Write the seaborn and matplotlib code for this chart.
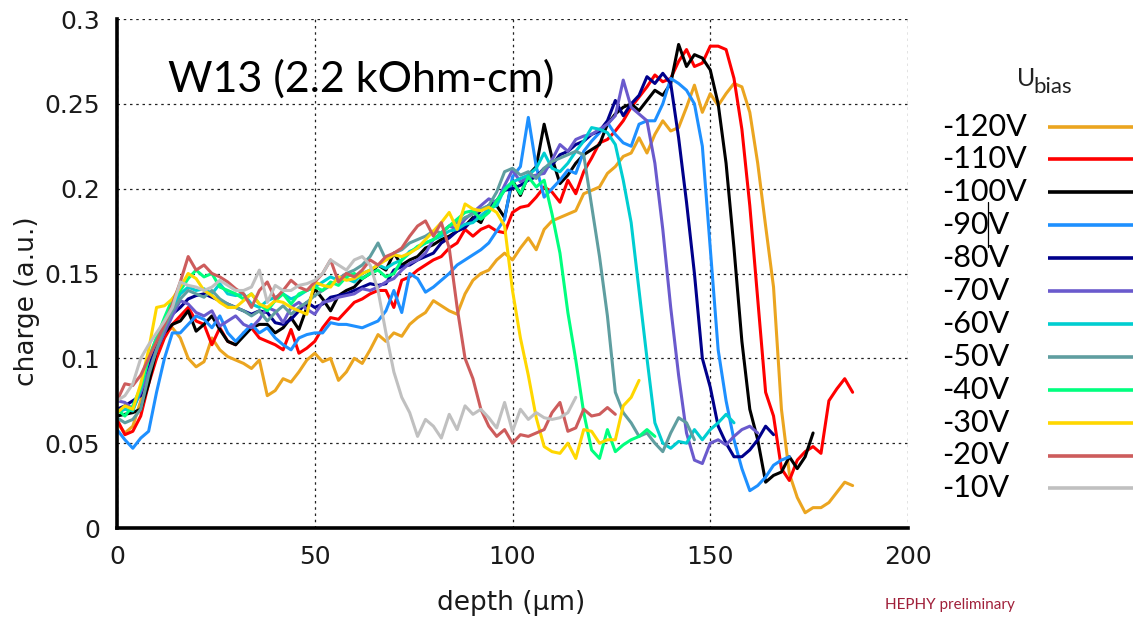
import numpy as np
import pandas as pd
import matplotlib
matplotlib.use("Agg")
import matplotlib.pyplot as plt
from matplotlib.lines import Line2D
from matplotlib.ticker import FuncFormatter
import seaborn as sns

# ---------------- data ----------------
bias_labels = ["-120V", "-110V", "-100V", "-90V", "-80V", "-70V",
               "-60V", "-50V", "-40V", "-30V", "-20V", "-10V"]
bias_colors = ["#EBA520", "#FF0000", "#000000", "#1E90FF", "#00008B", "#6A5ACD",
               "#00CED1", "#5F9EA0", "#00FF7F", "#FFD700", "#CD5C5C", "#C0C0C0"]
depth_step = 2.0  # µm sampling step of the depth scan

q_120 = [0.062, 0.056, 0.060, 0.075, 0.095, 0.108, 0.115, 0.118, 0.112, 0.100,
         0.095, 0.098, 0.112, 0.105, 0.101, 0.099, 0.097, 0.094, 0.099, 0.078,
         0.081, 0.088, 0.086, 0.092, 0.099, 0.103, 0.098, 0.100, 0.087, 0.092,
         0.100, 0.097, 0.105, 0.114, 0.110, 0.115, 0.113, 0.120, 0.124, 0.127,
         0.134, 0.131, 0.128, 0.126, 0.138, 0.146, 0.150, 0.152, 0.158, 0.162,
         0.158, 0.165, 0.171, 0.164, 0.176, 0.181, 0.183, 0.185, 0.187, 0.197,
         0.199, 0.201, 0.209, 0.213, 0.219, 0.221, 0.230, 0.221, 0.232, 0.240,
         0.234, 0.236, 0.248, 0.261, 0.245, 0.256, 0.249, 0.256, 0.262, 0.260,
         0.245, 0.215, 0.178, 0.142, 0.070, 0.032, 0.018, 0.009, 0.012, 0.012,
         0.015, 0.021, 0.027, 0.025]
q_110 = [0.064, 0.055, 0.057, 0.066, 0.085, 0.100, 0.112, 0.120, 0.125, 0.130,
         0.122, 0.120, 0.108, 0.118, 0.110, 0.108, 0.115, 0.118, 0.112, 0.110,
         0.108, 0.105, 0.117, 0.103, 0.106, 0.110, 0.118, 0.124, 0.123, 0.128,
         0.133, 0.135, 0.138, 0.140, 0.140, 0.130, 0.146, 0.148, 0.152, 0.155,
         0.158, 0.160, 0.165, 0.168, 0.176, 0.172, 0.176, 0.178, 0.175, 0.174,
         0.186, 0.189, 0.190, 0.195, 0.201, 0.198, 0.192, 0.205, 0.197, 0.210,
         0.218, 0.227, 0.229, 0.234, 0.240, 0.248, 0.254, 0.260, 0.267, 0.263,
         0.265, 0.275, 0.282, 0.272, 0.274, 0.284, 0.284, 0.282, 0.265, 0.235,
         0.190, 0.135, 0.080, 0.066, 0.035, 0.028, 0.040, 0.045, 0.048, 0.044,
         0.075, 0.082, 0.088, 0.080]
q_100 = [0.066, 0.067, 0.068, 0.070, 0.085, 0.105, 0.115, 0.120, 0.122, 0.128,
         0.116, 0.120, 0.125, 0.117, 0.110, 0.108, 0.113, 0.118, 0.120, 0.120,
         0.115, 0.118, 0.124, 0.117, 0.130, 0.141, 0.135, 0.128, 0.137, 0.140,
         0.142, 0.147, 0.150, 0.155, 0.152, 0.162, 0.155, 0.158, 0.160, 0.165,
         0.167, 0.170, 0.172, 0.175, 0.178, 0.183, 0.180, 0.190, 0.190, 0.183,
         0.205, 0.196, 0.208, 0.213, 0.238, 0.218, 0.203, 0.208, 0.215, 0.220,
         0.223, 0.226, 0.238, 0.244, 0.248, 0.250, 0.246, 0.252, 0.258, 0.255,
         0.262, 0.285, 0.272, 0.279, 0.277, 0.270, 0.250, 0.215, 0.165, 0.110,
         0.070, 0.052, 0.027, 0.031, 0.033, 0.042, 0.035, 0.042, 0.056]
q_90 = [0.058, 0.052, 0.047, 0.053, 0.057, 0.080, 0.100, 0.115, 0.115, 0.120,
        0.125, 0.123, 0.118, 0.125, 0.115, 0.110, 0.115, 0.120, 0.115, 0.118,
        0.112, 0.108, 0.105, 0.112, 0.114, 0.115, 0.115, 0.121, 0.120, 0.120,
        0.119, 0.118, 0.120, 0.122, 0.128, 0.140, 0.127, 0.150, 0.147, 0.139,
        0.142, 0.146, 0.150, 0.155, 0.158, 0.161, 0.164, 0.168, 0.175, 0.182,
        0.207, 0.213, 0.242, 0.213, 0.195, 0.200, 0.205, 0.211, 0.209, 0.222,
        0.228, 0.233, 0.239, 0.232, 0.227, 0.225, 0.238, 0.240, 0.240, 0.250,
        0.265, 0.262, 0.258, 0.250, 0.225, 0.165, 0.105, 0.075, 0.052, 0.035,
        0.022, 0.025, 0.030, 0.037, 0.040, 0.042]
q_80 = [0.070, 0.072, 0.075, 0.078, 0.095, 0.110, 0.120, 0.126, 0.130, 0.135,
        0.137, 0.138, 0.136, 0.134, 0.132, 0.130, 0.128, 0.126, 0.128, 0.127,
        0.121, 0.120, 0.123, 0.128, 0.133, 0.130, 0.132, 0.136, 0.137, 0.138,
        0.140, 0.142, 0.144, 0.143, 0.144, 0.152, 0.154, 0.155, 0.158, 0.160,
        0.162, 0.168, 0.171, 0.175, 0.177, 0.182, 0.187, 0.190, 0.193, 0.199,
        0.200, 0.202, 0.205, 0.207, 0.212, 0.214, 0.220, 0.222, 0.226, 0.228,
        0.232, 0.234, 0.240, 0.252, 0.243, 0.250, 0.255, 0.266, 0.262, 0.268,
        0.262, 0.230, 0.192, 0.150, 0.100, 0.083, 0.060, 0.050, 0.042, 0.042,
        0.046, 0.052, 0.060, 0.055]
q_70 = [0.075, 0.074, 0.070, 0.080, 0.092, 0.105, 0.115, 0.125, 0.134, 0.132,
        0.127, 0.125, 0.128, 0.119, 0.122, 0.125, 0.120, 0.118, 0.123, 0.130,
        0.128, 0.121, 0.130, 0.133, 0.129, 0.126, 0.133, 0.134, 0.136, 0.137,
        0.138, 0.141, 0.140, 0.142, 0.145, 0.147, 0.152, 0.156, 0.158, 0.162,
        0.170, 0.174, 0.178, 0.176, 0.182, 0.186, 0.190, 0.194, 0.192, 0.202,
        0.211, 0.204, 0.207, 0.208, 0.209, 0.217, 0.226, 0.222, 0.229, 0.231,
        0.232, 0.235, 0.238, 0.243, 0.264, 0.248, 0.244, 0.240, 0.215, 0.176,
        0.130, 0.090, 0.056, 0.040, 0.038, 0.050, 0.052, 0.049, 0.054, 0.058,
        0.060, 0.056]
q_60 = [0.068, 0.070, 0.069, 0.082, 0.100, 0.112, 0.122, 0.130, 0.138, 0.142,
        0.140, 0.141, 0.138, 0.144, 0.138, 0.137, 0.138, 0.132, 0.130, 0.134,
        0.136, 0.138, 0.135, 0.137, 0.140, 0.142, 0.145, 0.148, 0.146, 0.147,
        0.145, 0.150, 0.152, 0.155, 0.153, 0.156, 0.158, 0.163, 0.165, 0.168,
        0.170, 0.172, 0.175, 0.176, 0.179, 0.180, 0.184, 0.188, 0.190, 0.200,
        0.204, 0.206, 0.208, 0.212, 0.221, 0.212, 0.210, 0.215, 0.222, 0.228,
        0.236, 0.235, 0.233, 0.226, 0.205, 0.180, 0.140, 0.100, 0.062, 0.050,
        0.047, 0.051, 0.050, 0.058, 0.052, 0.058, 0.062, 0.067, 0.062]
q_50 = [0.065, 0.062, 0.064, 0.070, 0.090, 0.105, 0.118, 0.128, 0.135, 0.140,
        0.138, 0.136, 0.140, 0.135, 0.132, 0.130, 0.128, 0.125, 0.128, 0.122,
        0.127, 0.131, 0.126, 0.130, 0.133, 0.137, 0.140, 0.143, 0.147, 0.150,
        0.152, 0.155, 0.160, 0.168, 0.158, 0.162, 0.164, 0.168, 0.170, 0.172,
        0.175, 0.174, 0.178, 0.180, 0.183, 0.185, 0.188, 0.190, 0.198, 0.210,
        0.212, 0.208, 0.210, 0.206, 0.212, 0.216, 0.218, 0.220, 0.222, 0.220,
        0.190, 0.160, 0.125, 0.080, 0.068, 0.062, 0.054, 0.056, 0.050, 0.045,
        0.056, 0.065, 0.062, 0.052]
q_40 = [0.070, 0.066, 0.072, 0.083, 0.100, 0.112, 0.124, 0.135, 0.140, 0.147,
        0.152, 0.148, 0.150, 0.142, 0.140, 0.138, 0.135, 0.138, 0.132, 0.128,
        0.134, 0.138, 0.132, 0.138, 0.140, 0.142, 0.140, 0.145, 0.143, 0.148,
        0.150, 0.147, 0.150, 0.152, 0.148, 0.150, 0.158, 0.162, 0.166, 0.168,
        0.170, 0.174, 0.178, 0.182, 0.186, 0.187, 0.182, 0.186, 0.193, 0.199,
        0.204, 0.197, 0.207, 0.201, 0.205, 0.185, 0.162, 0.127, 0.099, 0.068,
        0.046, 0.041, 0.058, 0.045, 0.049, 0.052, 0.054, 0.058, 0.054]
q_30 = [0.068, 0.072, 0.070, 0.085, 0.105, 0.130, 0.131, 0.135, 0.142, 0.150,
        0.147, 0.140, 0.137, 0.133, 0.130, 0.130, 0.134, 0.138, 0.132, 0.130,
        0.134, 0.133, 0.130, 0.128, 0.126, 0.145, 0.143, 0.142, 0.148, 0.146,
        0.147, 0.150, 0.152, 0.155, 0.158, 0.161, 0.160, 0.162, 0.165, 0.170,
        0.175, 0.180, 0.186, 0.176, 0.191, 0.188, 0.187, 0.189, 0.186, 0.178,
        0.140, 0.112, 0.090, 0.065, 0.048, 0.045, 0.044, 0.050, 0.041, 0.058,
        0.057, 0.050, 0.052, 0.052, 0.072, 0.077, 0.087]
q_20 = [0.075, 0.085, 0.084, 0.090, 0.100, 0.110, 0.120, 0.132, 0.145, 0.160,
        0.152, 0.155, 0.150, 0.148, 0.145, 0.141, 0.138, 0.130, 0.140, 0.145,
        0.135, 0.140, 0.146, 0.142, 0.140, 0.145, 0.150, 0.158, 0.145, 0.150,
        0.148, 0.152, 0.158, 0.155, 0.160, 0.162, 0.165, 0.172, 0.178, 0.181,
        0.172, 0.180, 0.165, 0.130, 0.100, 0.088, 0.070, 0.060, 0.054, 0.058,
        0.050, 0.055, 0.054, 0.056, 0.058, 0.068, 0.074, 0.057, 0.059, 0.070,
        0.066, 0.067, 0.071, 0.067]
q_10 = [0.075, 0.078, 0.085, 0.100, 0.108, 0.115, 0.122, 0.130, 0.145, 0.143,
        0.142, 0.140, 0.142, 0.146, 0.143, 0.140, 0.140, 0.142, 0.152, 0.133,
        0.143, 0.140, 0.140, 0.143, 0.144, 0.146, 0.150, 0.158, 0.155, 0.152,
        0.158, 0.160, 0.155, 0.140, 0.115, 0.092, 0.077, 0.068, 0.054, 0.064,
        0.060, 0.053, 0.067, 0.058, 0.072, 0.067, 0.070, 0.065, 0.059, 0.074,
        0.057, 0.070, 0.064, 0.068, 0.065, 0.064, 0.065, 0.068, 0.077]

series = [q_120, q_110, q_100, q_90, q_80, q_70, q_60, q_50, q_40, q_30, q_20, q_10]

x_ticks = [0, 50, 100, 150, 200]
y_ticks = [0, 0.05, 0.1, 0.15, 0.2, 0.25, 0.3]

frames = []
for lab, vals in zip(bias_labels, series):
    frames.append(pd.DataFrame({"depth": np.arange(len(vals)) * depth_step,
                                "charge": vals, "bias": lab}))
df = pd.concat(frames, ignore_index=True)

# ---------------- figure ----------------
sns.set_theme(style="white")
plt.rcParams['font.family'] = ['DejaVu Sans']

W, H = 1137, 620
fig = plt.figure(figsize=(W / 100, H / 100), dpi=100)
ax = fig.add_axes([117 / W, (H - 528) / H, (908 - 117) / W, (528 - 19) / H])

palette = dict(zip(bias_labels, bias_colors))
sns.lineplot(data=df, x="depth", y="charge", hue="bias", hue_order=bias_labels,
             palette=palette, estimator=None, sort=False, lw=2.2,
             legend=False, ax=ax)

ax.set_xlim(0, 200)
ax.set_ylim(0, 0.3)
ax.set_xticks(x_ticks)
ax.set_yticks(y_ticks)
ax.yaxis.set_major_formatter(FuncFormatter(lambda v, p: f"{v:g}"))
ax.xaxis.set_major_formatter(FuncFormatter(lambda v, p: f"{v:g}"))
ax.grid(True, color="#222222", linestyle=(0, (2, 3)), lw=0.9)
ax.set_axisbelow(True)
for s in ["top", "right"]:
    ax.spines[s].set_visible(False)
for s in ["left", "bottom"]:
    ax.spines[s].set_color("black")
    ax.spines[s].set_linewidth(2.6)
ax.tick_params(axis="both", direction="in", length=6, width=2.6,
               color="black", labelsize=18, labelcolor="#1a1a1a")
ax.tick_params(axis="x", pad=12)
ax.tick_params(axis="y", pad=12)
ax.set_xlabel("")
ax.set_ylabel("")

fig.text(511 / W, 1 - 603 / H, "depth (μm)", ha="center", va="center",
         fontsize=19, color="#1a1a1a")
fig.text(27 / W, 1 - 301 / H, "charge (a.u.)", ha="center", va="center",
         rotation=90, fontsize=19, color="#1a1a1a")

fig.text(168 / W, 1 - 79 / H, "W13 (2.2 kOhm-cm)", ha="left", va="center",
         fontsize=31, family=["Lato", "DejaVu Sans"], color="black")

# legend
fig.text(1017 / W, 1 - 78 / H, "U", ha="left", va="center", fontsize=18,
         family=["Lato", "DejaVu Sans"], color="#222222")
fig.text(1033 / W, 1 - 87 / H, "bias", ha="left", va="center", fontsize=16,
         family=["Lato", "DejaVu Sans"], color="#222222")
for i, (lab, col) in enumerate(zip(bias_labels, bias_colors)):
    yy = 1 - (126.5 + i * 32.9) / H
    fig.text(942 / W, yy, lab, ha="left", va="center", fontsize=22,
             family=["Lato", "DejaVu Sans"], color="black")
    fig.add_artist(Line2D([1048 / W, 1133 / W], [yy, yy], transform=fig.transFigure,
                          color=col, lw=2.6, solid_capstyle="butt"))
fig.add_artist(Line2D([988 / W, 988 / W], [1 - 202 / H, 1 - 247 / H],
                      transform=fig.transFigure, color="black", lw=0.9))

fig.text(885 / W, 1 - 605 / H, "HEPHY preliminary", ha="left", va="center",
         fontsize=11, family=["Lato", "DejaVu Sans"], color="#A0203A")

fig.savefig("out.png", dpi=100)
